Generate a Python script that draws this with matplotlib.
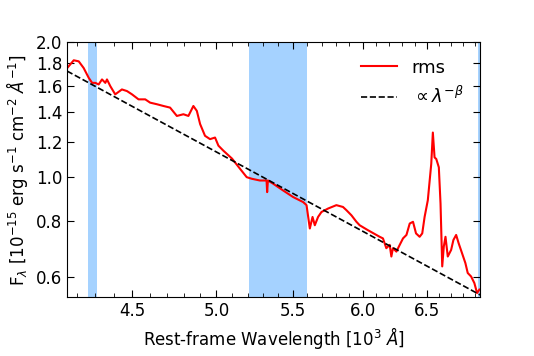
import numpy as np
import matplotlib
matplotlib.use("Agg")
import matplotlib.pyplot as plt
import matplotlib.ticker as ticker

# rest-frame wavelength [1e3 A] and rms flux [1e-15 erg/s/cm2/A]
wave = [4.151, 4.185, 4.211, 4.237, 4.264, 4.282, 4.299, 4.317, 4.335, 4.353,
        4.362, 4.380, 4.407, 4.444, 4.472, 4.500, 4.537, 4.575, 4.603, 4.642,
        4.680, 4.719, 4.759, 4.798, 4.828, 4.858, 4.879, 4.899, 4.929, 4.960,
        4.991, 5.012, 5.043, 5.098, 5.149, 5.192, 5.224, 5.278, 5.322, 5.326,
        5.331, 5.366, 5.433, 5.501, 5.570, 5.594, 5.617, 5.636, 5.652, 5.675,
        5.699, 5.746, 5.806, 5.854, 5.879, 5.916, 5.953, 5.977, 6.037, 6.128,
        6.153, 6.179, 6.205, 6.218, 6.230, 6.257, 6.283, 6.309, 6.336, 6.362,
        6.388, 6.412, 6.441, 6.462, 6.481, 6.507, 6.535, 6.548, 6.562, 6.576,
        6.597, 6.611, 6.625, 6.638, 6.652, 6.671, 6.699, 6.718, 6.741, 6.762,
        6.791, 6.819, 6.839, 6.868, 6.896, 6.919, 6.939]
flux = [1.753, 1.824, 1.814, 1.753, 1.666, 1.624, 1.624, 1.611, 1.653, 1.624,
        1.653, 1.597, 1.531, 1.570, 1.557, 1.531, 1.492, 1.492, 1.467, 1.455,
        1.442, 1.430, 1.370, 1.382, 1.370, 1.442, 1.406, 1.314, 1.237, 1.216,
        1.226, 1.176, 1.146, 1.100, 1.044, 1.000, 0.992, 0.983, 0.983, 0.926,
        0.983, 0.967, 0.934, 0.903, 0.880, 0.866, 0.768, 0.815, 0.781, 0.815,
        0.836, 0.851, 0.866, 0.858, 0.844, 0.822, 0.795, 0.781, 0.762, 0.736,
        0.730, 0.694, 0.706, 0.665, 0.694, 0.682, 0.706, 0.730, 0.743, 0.788,
        0.795, 0.749, 0.736, 0.749, 0.815, 0.888, 1.071, 1.258, 1.107, 1.098,
        1.052, 0.873, 0.632, 0.700, 0.736, 0.665, 0.688, 0.724, 0.743, 0.712,
        0.676, 0.643, 0.611, 0.600, 0.580, 0.551, 0.561]

# power law fit
beta = 2.235
f_norm = 1.138   # flux at lam_norm
lam_norm = 5.0
fit_wave = [4.15, 6.95]

# masked windows
bands = [(4.262, 4.310), (5.21, 5.596), (6.925, 7.0)]

fig = plt.figure(figsize=(5.34, 3.56), dpi=100)
ax = fig.add_axes([0.1255, 0.1657, 0.7735, 0.7153])

for lo, hi in bands:
    ax.axvspan(lo, hi, color="dodgerblue", alpha=0.4, lw=0)

ax.plot(wave, flux, color="red", lw=1.5, label="rms")
fw = np.array(fit_wave)
ax.plot(fw, f_norm * (fw / lam_norm) ** (-beta), "k--", lw=1.2,
        label=r"$\propto\lambda^{-\beta}$")

ax.set_xscale("log")
ax.set_yscale("log")
ax.set_xlim(4.15, 6.945)
ax.set_ylim(0.54, 2.0)

ax.xaxis.set_major_locator(ticker.FixedLocator([4.5, 5.0, 5.5, 6.0, 6.5]))
ax.xaxis.set_minor_locator(ticker.FixedLocator(
    [v for v in np.round(np.arange(4.2, 6.95, 0.1), 1) if v not in (4.5, 5.0, 5.5, 6.0, 6.5)]))
ax.xaxis.set_major_formatter(ticker.FormatStrFormatter("%.1f"))
ax.xaxis.set_minor_formatter(ticker.NullFormatter())
ax.yaxis.set_major_locator(ticker.FixedLocator([0.6, 0.8, 1.0, 1.2, 1.4, 1.6, 1.8, 2.0]))
ax.yaxis.set_minor_locator(ticker.NullLocator())
ax.yaxis.set_major_formatter(ticker.FormatStrFormatter("%.1f"))

ax.tick_params(which="both", direction="in", top=True, right=True, labelsize=12)
ax.tick_params(which="major", length=5)
ax.tick_params(which="minor", length=3)

ax.set_xlabel(r"Rest-frame Wavelength [10$^3$ $\AA$]", fontsize=12)
ax.set_ylabel(r"F$_\lambda$ [10$^{-15}$ erg s$^{-1}$ cm$^{-2}$ $\AA^{-1}$]", fontsize=12)
ax.legend(loc="upper right", frameon=False, fontsize=13)

fig.savefig("out.png", dpi=100)
